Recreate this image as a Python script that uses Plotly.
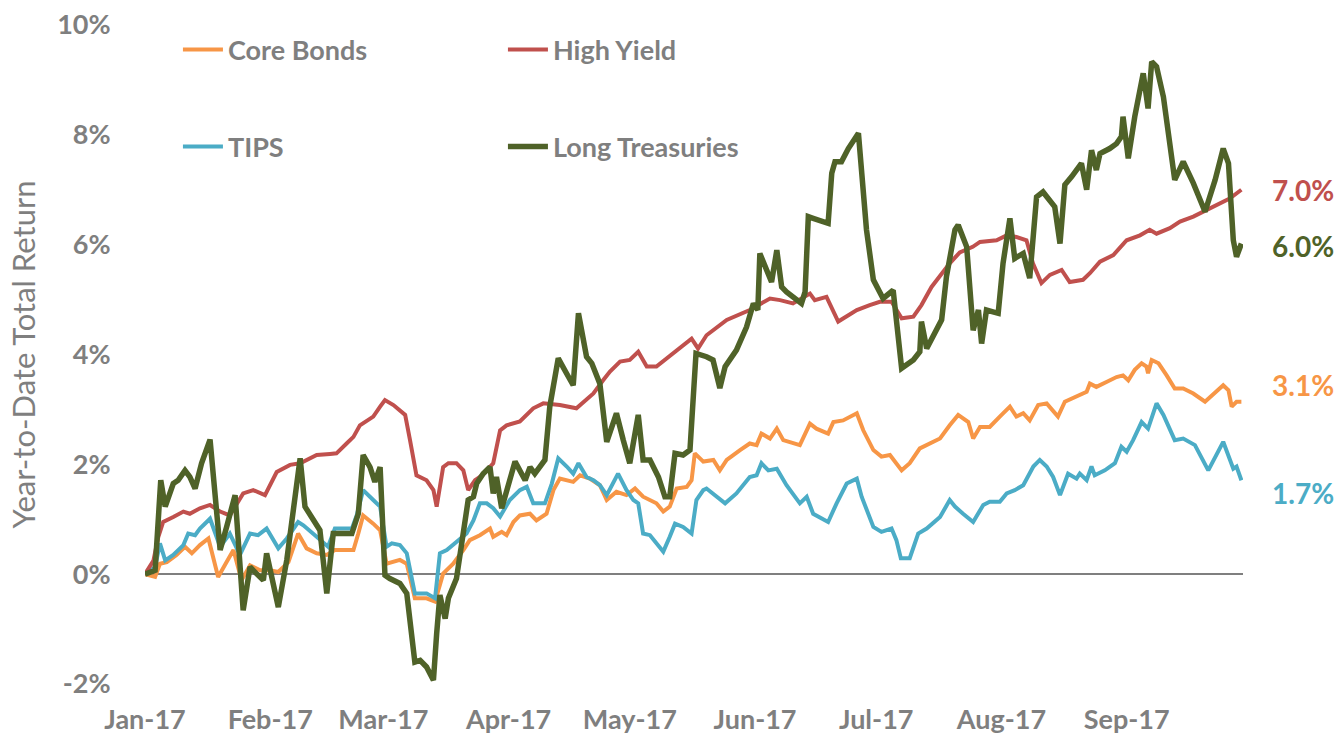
import pandas as pd
import plotly.graph_objects as go

# ---------------- data (day offset from 2017-01-01, YTD total return in %) ----------------
start = pd.Timestamp("2017-01-01")

core_days = [0, 2.5, 3.7, 5.4, 7.8, 9.9, 11.6, 13.6, 15.7, 18.1, 20.2, 21.9, 23.9, 26.0, 28.5, 30.9,
             33.0, 35.5, 37.9, 40.0, 42.5, 45.0, 47.0, 51.6, 52.8, 54.0, 56.5, 58.2, 59.8, 63.1, 64.8,
             66.8, 69.7, 71.8, 73.8, 76.3, 78.8, 80.4, 82.9, 85.4, 86.2, 88.3, 89.5, 91.2, 92.8, 95.3,
             96.9, 99.4, 101.1, 102.7, 106.0, 107.7, 110.1, 112.6, 114.3, 116.7, 119.2, 121.3, 123.3,
             126.6, 128.3, 129.9, 131.6, 134.1, 135.3, 136.1, 138.2, 140.7, 142.3, 144.0, 147.3, 149.7,
             151.4, 152.6, 154.7, 156.4, 158.0, 162.1, 164.6, 166.2, 169.1, 170.4, 172.8, 176.2, 177.8,
             180.3, 182.3, 184.4, 187.3, 189.3, 191.8, 193.5, 196.8, 199.2, 201.3, 203.8, 205.0, 206.7,
             209.1, 211.6, 214.1, 215.7, 217.4, 219.0, 221.1, 223.2, 226.0, 227.7, 230.6, 233.1, 233.9,
             235.5, 238.0, 240.5, 242.1, 243.4, 245.0, 246.7, 247.9, 248.3, 249.2, 250.9, 252.9, 254.9,
             257.0, 259.5, 262.4, 264.5, 266.9, 268.2, 269.0, 270.2, 271.4]
core_vals = [0, -0.05, 0.19, 0.22, 0.35, 0.50, 0.38, 0.53, 0.65, -0.05, 0.22, 0.44, -0.11, 0.16, 0.07, 0.07,
             0.04, 0.22, 0.74, 0.47, 0.38, 0.35, 0.44, 0.44, 0.74, 1.07, 0.92, 0.80, 0.19, 0.26, 0.19,
             -0.44, -0.44, -0.50, 0.01, 0.19, 0.44, 0.62, 0.71, 0.83, 0.68, 0.77, 0.71, 0.95, 1.07, 1.10,
             0.98, 1.10, 1.53, 1.74, 1.68, 1.80, 1.74, 1.62, 1.35, 1.50, 1.44, 1.56, 1.41,
             1.29, 1.14, 1.23, 1.56, 1.59, 1.71, 2.20, 2.05, 2.08, 1.89, 2.08, 2.26, 2.38,
             2.35, 2.56, 2.47, 2.65, 2.44, 2.35, 2.74, 2.65, 2.56, 2.77, 2.80, 2.93, 2.62,
             2.26, 2.14, 2.17, 1.89, 2.02, 2.29, 2.35, 2.47, 2.71, 2.90, 2.77, 2.47, 2.68,
             2.68, 2.87, 3.05, 2.87, 2.93, 2.80, 3.08, 3.11, 2.87, 3.14, 3.23, 3.32, 3.47,
             3.41, 3.50, 3.59, 3.62, 3.53, 3.72, 3.84, 3.78, 3.66, 3.90, 3.84, 3.62, 3.38,
             3.38, 3.29, 3.14, 3.29, 3.44, 3.35, 3.05, 3.14, 3.14]

tips_days = [0, 2.5, 3.7, 5.0, 7.0, 9.5, 10.7, 12.4, 13.6, 16.1, 18.6, 21.0, 23.5, 26.0, 28.0, 30.1,
             33.0, 35.1, 37.9, 39.2, 42.5, 45.3, 47.0, 51.2, 52.4, 54.0, 56.5, 58.2, 59.8, 61.1, 63.1,
             64.8, 66.8, 69.7, 71.8, 73.0, 74.7, 77.1, 79.6, 81.3, 82.9, 84.6, 86.2, 87.9, 90.3, 92.8,
             94.5, 96.1, 99.0, 100.7, 102.3, 104.4, 106.0, 107.3, 109.3, 111.0, 112.6, 114.3, 117.1,
             119.2, 120.9, 122.1, 123.3, 125.0, 126.6, 128.3, 129.9, 131.2, 133.2, 135.3, 136.5, 138.2,
             139.0, 141.5, 143.6, 146.4, 149.7, 151.4, 152.6, 154.3, 156.4, 158.8, 162.1, 163.8, 165.4,
             169.1, 171.2, 173.7, 176.2, 177.4, 180.3, 182.3, 184.8, 186.0, 187.1, 189.3, 191.4, 193.5,
             196.8, 199.2, 200.5, 202.5, 205.0, 207.5, 209.1, 211.6, 213.3, 215.3, 217.4, 219.9, 221.5,
             223.2, 224.8, 226.5, 228.5, 230.6, 231.4, 233.1, 234.3, 235.1, 237.6, 240.1, 241.7, 243.0,
             244.6, 246.7, 248.3, 250.4, 252.1, 254.9, 257.0, 259.9, 263.2, 266.9, 268.5, 269.4, 270.2,
             271.4]
tips_vals = [0, 0.13, 0.56, 0.25, 0.35, 0.53, 0.74, 0.71, 0.83, 1.01, 0.50, 0.74, 0.35, 0.74, 0.71, 0.83,
             0.47, 0.65, 0.95, 0.89, 0.68, 0.50, 0.83, 0.83, 1.07, 1.53, 1.35, 1.23, 0.50, 0.56, 0.53,
             0.38, -0.35, -0.35, -0.44, 0.38, 0.44, 0.59, 0.74, 0.98, 1.29, 1.29, 1.20, 1.05, 1.35, 1.53,
             1.59, 1.29, 1.29, 1.65, 2.11, 1.96, 1.83, 2.02, 1.77, 1.71, 1.62, 1.44, 1.83,
             1.53, 1.35, 1.29, 0.74, 0.71, 0.56, 0.41, 0.68, 0.92, 0.86, 0.74, 1.35, 1.53,
             1.56, 1.41, 1.29, 1.47, 1.77, 1.80, 2.02, 1.89, 1.92, 1.62, 1.29, 1.41, 1.10,
             0.95, 1.29, 1.65, 1.74, 1.41, 0.86, 0.77, 0.83, 0.62, 0.29, 0.29, 0.74, 0.83,
             1.04, 1.35, 1.23, 1.10, 0.95, 1.26, 1.32, 1.32, 1.47, 1.53, 1.62, 1.96, 2.08,
             1.96, 1.77, 1.44, 1.83, 1.74, 1.83, 1.71, 1.96, 1.80, 1.89, 2.02, 2.32, 2.23,
             2.44, 2.77, 2.65, 3.11, 2.90, 2.44, 2.47, 2.35, 1.89, 2.41, 2.08, 1.92, 1.96,
             1.71]

hy_days = [0, 2.1, 3.3, 4.5, 7.0, 9.5, 11.1, 13.6, 16.1, 18.6, 21.0, 24.3, 26.8, 29.7, 32.6, 35.9,
           38.4, 42.5, 45.8, 47.4, 49.9, 51.6, 53.2, 56.5, 58.2, 59.4, 61.5, 64.4, 65.6, 67.2, 69.7,
           71.4, 72.2, 73.8, 75.1, 77.1, 78.8, 80.0, 81.7, 82.9, 84.6, 86.2, 87.9, 89.5, 92.8, 96.1,
           98.6, 102.7, 106.8, 108.1, 111.0, 113.4, 115.1, 117.6, 120.0, 122.1, 124.2, 126.6, 130.8,
           135.3, 136.9, 139.0, 144.0, 149.7, 154.7, 157.2, 160.4, 162.9, 164.6, 165.8, 168.7, 171.6,
           173.7, 176.2, 179.4, 181.9, 184.8, 187.3, 190.2, 192.2, 194.7, 197.2, 199.2, 201.7, 204.9,
           206.7, 210.8, 213.3, 215.7, 218.2, 219.8, 221.9, 224.0, 226.9, 228.9, 232.2, 233.9, 236.4,
           239.7, 243.0, 246.3, 248.7, 250.4, 253.7, 256.2, 259.5, 262.8, 266.1, 268.5, 271.4]
hy_vals = [0, 0.25, 0.68, 0.95, 1.04, 1.14, 1.10, 1.20, 1.26, 1.14, 1.07, 1.47, 1.53, 1.44, 1.86, 1.99,
           2.02, 2.17, 2.19, 2.20, 2.38, 2.50, 2.71, 2.87, 3.05, 3.17, 3.08, 2.90, 2.44, 1.80, 1.71,
           1.53, 1.23, 1.95, 2.02, 2.02, 1.89, 1.53, 1.71, 1.77, 1.89, 2.02, 2.62, 2.71, 2.78, 3.02,
           3.11, 3.08, 3.02, 3.11, 3.29, 3.53, 3.69, 3.87, 3.90, 4.05, 3.78, 3.78, 4.02,
           4.29, 4.11, 4.35, 4.63, 4.81, 5.02, 4.99, 4.93, 5.05, 5.11, 4.99, 5.05, 4.60,
           4.69, 4.81, 4.90, 4.96, 4.96, 4.66, 4.69, 4.90, 5.23, 5.48, 5.66, 5.86, 5.96,
           6.05, 6.08, 6.17, 6.14, 6.08, 5.66, 5.30, 5.45, 5.54, 5.32, 5.36, 5.48, 5.69,
           5.81, 6.08, 6.17, 6.27, 6.20, 6.30, 6.42, 6.51, 6.63, 6.75, 6.84, 7.00]

lt_days = [0, 2.5, 3.9, 5.0, 7.0, 8.2, 9.9, 11.1, 12.4, 14.0, 16.1, 18.6, 20.2, 22.3, 24.3, 26.0,
           27.6, 29.3, 30.1, 31.4, 33.0, 35.1, 38.4, 39.6, 41.7, 43.3, 45.0, 46.6, 51.2, 52.8, 54.0,
           55.7, 56.9, 58.2, 59.4, 60.6, 63.1, 64.8, 66.8, 68.1, 69.7, 71.4, 72.2, 73.0, 74.3, 75.1,
           77.1, 78.8, 80.0, 81.3, 82.1, 83.7, 85.4, 86.2, 87.0, 88.3, 89.5, 91.6, 94.1, 95.3, 96.5,
           99.0, 100.2, 102.3, 104.4, 106.0, 107.3, 109.3, 110.6, 112.6, 114.3, 116.7, 118.4, 120.0,
           122.1, 123.3, 125.0, 127.1, 128.7, 129.9, 131.2, 133.2, 134.9, 136.4, 139.0, 140.6, 142.3,
           143.6, 146.4, 148.9, 150.6, 151.7, 152.2, 153.5, 155.1, 156.4, 157.6, 158.8, 160.5, 162.5,
           163.4, 164.2, 165.4, 169.1, 170.0, 170.8, 172.4, 174.1, 176.6, 177.8, 178.6, 180.3, 182.7,
           185.2, 187.3, 190.2, 191.8, 192.2, 193.5, 197.2, 198.4, 200.5, 201.3, 203.4, 205.0, 206.3,
           207.1, 208.3, 211.2, 212.4, 214.1, 215.3, 217.4, 219.0, 220.7, 222.3, 225.2, 226.5, 227.7,
           229.4, 231.8, 233.1, 234.3, 235.5, 236.4, 238.8, 240.5, 241.7, 242.1, 243.4, 245.0, 247.1,
           248.3, 249.2, 250.4, 252.1, 254.9, 257.0, 259.5, 262.4, 264.9, 266.9, 268.2, 269.4, 270.2,
           271.4]
lt_vals = [0, 0.07, 1.71, 1.23, 1.65, 1.71, 1.89, 1.77, 1.56, 2.02, 2.45, 0.44, 0.86, 1.44, -0.66, 0.13,
           0.01, -0.11, 0.38, -0.05, -0.60, 0.26, 2.11, 1.23, 0.98, 0.80, -0.35, 0.74, 0.74, 1.10, 2.17,
           1.95, 1.68, 1.95, -0.02, -0.08, -0.17, -0.35, -1.60, -1.57, -1.69, -1.93, -1.08, -0.38, -0.81, -0.44,
           -0.08, 0.74, 1.35, 1.41, 1.65, 1.83, 1.95, 1.47, 1.77, 1.20, 1.53, 2.05, 1.71, 1.95, 1.83,
           2.08, 3.05, 3.93, 3.65, 3.44, 4.75, 3.96, 3.84, 3.47, 2.41, 2.93, 2.44, 2.02,
           2.90, 2.08, 2.08, 1.77, 1.41, 1.41, 2.20, 2.17, 2.26, 4.02, 3.96, 3.90, 3.39,
           3.78, 4.08, 4.50, 4.93, 4.81, 5.84, 5.60, 5.32, 5.90, 5.23, 5.14, 5.05, 4.93,
           5.14, 6.51, 6.48, 6.39, 7.30, 7.51, 7.51, 7.75, 8.03, 6.93, 6.27, 5.36, 5.02,
           5.17, 3.75, 3.90, 4.05, 4.60, 4.11, 4.63, 5.42, 6.27, 6.36, 5.96, 4.44, 4.81,
           4.20, 4.81, 4.75, 5.66, 6.48, 5.75, 5.84, 5.39, 6.87, 6.96, 6.69, 6.02, 7.09,
           7.24, 7.48, 7.00, 7.72, 7.36, 7.66, 7.75, 7.84, 7.97, 8.33, 7.57, 8.33, 9.12,
           8.48, 9.33, 9.24, 8.69, 7.18, 7.51, 7.12, 6.60, 7.18, 7.75, 7.48, 6.08, 5.78,
           6.02]

series_names = ["Core Bonds", "TIPS", "High Yield", "Long Treasuries"]
y_ticks = [-2, 0, 2, 4, 6, 8, 10]

# ---------------- styling ----------------
colors = {"Core Bonds": "#F79646", "TIPS": "#4BACC6", "High Yield": "#C0504D", "Long Treasuries": "#4F6228"}
widths = {"Core Bonds": 4, "TIPS": 4, "High Yield": 4, "Long Treasuries": 5.5}
legend_of = {"Core Bonds": "legend", "High Yield": "legend", "TIPS": "legend2", "Long Treasuries": "legend2"}
data = {
    "Core Bonds": (core_days, core_vals),
    "TIPS": (tips_days, tips_vals),
    "High Yield": (hy_days, hy_vals),
    "Long Treasuries": (lt_days, lt_vals),
}
GRAY = "#7F7F7F"
FONT = "Lato"


def to_dates(days):
    return start + pd.to_timedelta(pd.Series(days), unit="D")


fig = go.Figure()
for name in series_names:
    d, v = data[name]
    fig.add_trace(go.Scatter(
        x=to_dates(d), y=v, mode="lines", name=name,
        line=dict(color=colors[name], width=widths[name]),
        legend=legend_of[name],
    ))

# end-of-series value labels
label_y = {"High Yield": 6.99, "Long Treasuries": 5.97, "Core Bonds": 3.44, "TIPS": 1.48}
for name in ["High Yield", "Long Treasuries", "Core Bonds", "TIPS"]:
    last = data[name][1][-1]
    fig.add_annotation(
        xref="paper", x=1, xanchor="left", xshift=27,
        yref="y", y=label_y[name], yanchor="middle",
        text=f"{last:.1f}%", showarrow=False,
        font=dict(family=FONT, size=28, color=colors[name], weight="bold"),
    )

legend_common = dict(
    orientation="h", xanchor="left", yanchor="middle",
    font=dict(family=FONT, size=27, color=GRAY, weight="bold"),
    bgcolor="rgba(0,0,0,0)", itemwidth=40, entrywidth=270,
    tracegroupgap=0, itemclick=False,
)

fig.update_layout(
    width=1340, height=740,
    margin=dict(l=145, r=97, t=25, b=56, autoexpand=False),
    plot_bgcolor="white", paper_bgcolor="white",
    showlegend=True,
    legend=dict(x=0.03, y=0.962, **legend_common),
    legend2=dict(x=0.03, y=0.815, **legend_common),
    xaxis=dict(
        type="date", automargin=False,
        range=[start, start + pd.Timedelta(days=271.8)],
        tick0="2017-01-01", dtick="M1", tickformat="%b-%y",
        showgrid=False, zeroline=False, showline=False,
        ticks="outside", ticklen=12, tickcolor="rgba(0,0,0,0)",
        tickfont=dict(family=FONT, size=27, color=GRAY, weight="bold"),
    ),
    yaxis=dict(
        range=[-2, 10], automargin=False,
        tickvals=y_ticks, ticktext=[f"{t}%" for t in y_ticks],
        showgrid=False, showline=False,
        zeroline=True, zerolinecolor=GRAY, zerolinewidth=2,
        ticks="outside", ticklen=28, tickcolor="rgba(0,0,0,0)",
        tickfont=dict(family=FONT, size=27, color=GRAY, weight="bold"),
        title=dict(text="Year-to-Date Total Return", standoff=12,
                   font=dict(family=FONT, size=31, color=GRAY)),
    ),
)

fig.write_html("out.html")
